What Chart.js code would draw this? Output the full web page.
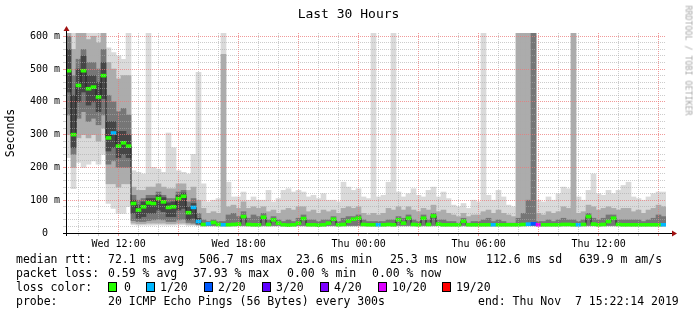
<!DOCTYPE html>
<html><head><meta charset="utf-8">
<script src="https://cdn.jsdelivr.net/npm/chart.js@4.4.0/dist/chart.umd.min.js"></script>
<style>
html,body{margin:0;padding:0;background:#fff;}
#wrap{position:relative;width:697px;height:315px;overflow:hidden;background:#fff;}
#c{position:absolute;left:0;top:0;}
.t{position:absolute;font-family:"DejaVu Sans Mono",monospace;white-space:pre;color:#000;line-height:12px;font-size:11.5px;}
.box{position:absolute;width:7px;height:8px;border:1px solid #000;}
</style></head><body>
<div id="wrap">
<canvas id="c" width="697" height="315"></canvas>
<div class="t" style="left:0;width:697px;text-align:center;top:7px;font-size:13px;line-height:13px;">Last 30 Hours</div>
<div class="t" style="left:-90px;width:200px;text-align:center;top:127px;transform:rotate(-90deg);">Seconds</div>
<div class="t" style="left:628px;width:120px;text-align:center;top:56px;font-size:8.3px;line-height:9px;color:#a8a8a8;transform:rotate(90deg);">RRDTOOL / TOBI OETIKER</div>

<div class="t" style="left:16px;top:253px;">median rtt:</div>
<div class="t" style="left:108px;top:253px;">72.1 ms avg</div>
<div class="t" style="left:199px;top:253px;">506.7 ms max</div>
<div class="t" style="left:296px;top:253px;">23.6 ms min</div>
<div class="t" style="left:390px;top:253px;">25.3 ms now</div>
<div class="t" style="left:486px;top:253px;">112.6 ms sd</div>
<div class="t" style="left:579px;top:253px;">639.9 m am/s</div>

<div class="t" style="left:16px;top:267px;">packet loss:</div>
<div class="t" style="left:108px;top:267px;">0.59 % avg</div>
<div class="t" style="left:193px;top:267px;">37.93 % max</div>
<div class="t" style="left:287px;top:267px;">0.00 % min</div>
<div class="t" style="left:372px;top:267px;">0.00 % now</div>

<div class="t" style="left:16px;top:281px;">loss color:</div>
<div id="lossLegend"></div>

<div class="t" style="left:16px;top:295px;">probe:</div>
<div class="t" style="left:108px;top:295px;">20 ICMP Echo Pings (56 Bytes) every 300s</div>
<div class="t" style="left:478px;top:295px;">end: Thu Nov  7 15:22:14 2019</div>
</div>
<script>
// ---- data: 120 bins of 15 minutes, values in ms ----
const median = [495,300,450,495,440,445,415,480,290,305,265,275,265,90,70,80,92,90,105,95,78,80,105,112,62,78,35,
26,28,32,26,25,25,26,27,50,26,25,25,48,26,40,30,25,24,25,30,44,25,25,24,25,30,42,25,26,36,42,45,26,25,
25,25,25,26,25,40,30,45,26,25,45,26,52,27,25,25,25,25,36,25,25,25,25,25,25,25,25,25,25,25,
26,27,28,25,25,25,25,25,26,26,25,25,26,50,27,25,26,35,45,26,25,25,25,25,25,25,25,25,25];
const lossCount = [0,0,0,0,0,0,0,0,0,1,0,0,0,0,0,0,0,0,0,0,0,0,0,0,0,1,1,
0,1,0,0,1,0,0,0,0,0,0,0,0,0,0,0,0,0,0,0,0,0,0,0,0,0,0,0,0,0,0,0,0,0,
0,1,0,0,0,0,0,0,0,0,0,0,0,0,0,0,0,0,0,0,0,0,0,0,1,0,0,0,0,0,
0,1,2,10,0,0,0,0,0,0,0,1,0,0,0,0,0,0,0,0,0,0,0,0,0,0,0,0,1,0];
const lightLo = [230,135,215,200,210,220,210,240,90,75,60,60,80,25,24,24,24,24,25,24,24,24,25,25,23,23,22,
21,21,21,21,21,21,21,21,21,21,21,21,21,21,21,21,21,21,21,21,21,21,21,21,21,21,21,21,21,21,21,21,21,21,
21,21,21,21,21,21,21,21,21,21,21,21,21,21,21,21,21,21,21,21,21,21,21,21,21,21,21,21,21,21,
21,21,21,21,21,21,21,21,21,21,21,21,21,21,21,21,21,21,21,21,21,21,21,21,21,21,21,21,21,21];
const lightHi = [610,610,610,610,610,610,610,610,565,550,540,530,610,190,185,180,610,200,195,185,305,260,190,185,180,240,490,
150,95,100,105,610,155,110,110,125,100,110,100,100,130,95,105,130,135,125,130,125,110,115,105,120,100,100,95,155,140,130,135,110,105,
610,110,115,155,610,125,110,120,135,115,110,130,140,110,125,105,85,80,90,75,100,95,610,115,100,130,110,85,80,
610,610,610,610,100,95,110,100,120,140,135,610,110,100,130,180,120,115,130,120,130,145,155,110,105,100,110,120,125,125];
const midLo = [300,200,290,300,290,300,280,320,150,150,140,150,150,30,28,28,30,30,30,30,28,28,30,30,27,26,24,
22,22,22,22,22,22,22,22,22,22,22,22,22,22,22,22,22,22,22,22,22,22,22,22,22,22,22,22,22,22,22,22,22,22,
22,22,22,22,22,22,22,22,22,22,22,22,22,22,22,22,22,22,22,22,22,22,22,22,22,22,22,22,22,22,
22,22,22,22,22,22,22,22,22,22,22,22,22,22,22,22,22,22,22,22,22,22,22,22,22,22,22,22,22,22];
const midHi = [610,560,610,610,590,600,580,610,520,500,470,480,480,140,130,130,140,140,150,140,135,135,150,150,130,140,100,
75,60,65,60,545,80,85,75,95,75,80,75,80,65,70,60,70,75,70,80,80,65,70,60,70,65,70,60,75,80,75,80,60,55,
60,55,60,75,70,80,70,80,70,65,75,70,85,65,70,60,55,50,60,50,55,55,65,70,60,70,60,55,50,
610,610,610,610,60,55,65,60,65,80,75,610,60,65,85,80,70,75,80,75,70,75,75,65,70,60,70,75,85,80];
const darkLo = [360,240,350,370,340,350,330,360,210,220,200,200,200,38,35,35,38,40,42,40,35,35,40,42,32,30,26,
23,23,23,23,23,23,23,23,23,23,23,23,23,23,23,23,23,23,23,23,23,23,23,23,23,23,23,23,23,23,23,23,23,23,
23,23,23,23,23,23,23,23,23,23,23,23,23,23,23,23,23,23,23,23,23,23,23,23,23,23,23,23,23,23,
23,23,23,23,23,23,23,23,23,23,23,23,23,23,23,23,23,23,23,23,23,23,23,23,23,23,23,23,23,23];
const darkHi = [600,480,530,560,520,520,500,560,420,400,370,380,360,115,100,105,115,115,125,115,105,105,125,130,95,105,60,
40,35,40,35,35,55,60,50,65,45,55,50,60,40,50,40,35,40,35,45,55,40,40,35,40,40,50,35,45,50,50,55,40,35,
35,35,35,40,40,50,45,55,40,35,55,40,60,40,40,35,35,30,45,30,35,35,40,45,35,40,35,30,30,
45,60,100,610,35,35,40,35,40,45,40,40,35,40,60,45,40,45,55,55,40,40,40,40,40,35,40,45,55,50];
// darkest core of the smoke (only where it is visible, first 27 bins)
const coreLo = [430,260,400,430,390,400,370,410,250,260,230,240,230,60,45,50,60,60,70,65,50,50,70,75,40,45,28];
const coreHi = [560,420,500,540,480,480,460,520,340,340,310,310,300,100,85,95,105,105,115,108,92,95,115,122,80,90,45];
const timeLabels = ['Wed 12:00','Wed 18:00','Thu 00:00','Thu 06:00','Thu 12:00'];
const lossSteps = [0,1,2,3,4,10,19];
const lossNames = ['0','1/20','2/20','3/20','4/20','10/20','19/20'];
const lossColors = ['#26ff00','#00b8ff','#0059ff','#5e00ff','#7e00ff','#dd00ff','#ff0000'];

// ---- loss legend ----
const boxLeft = [108,146,204,262,320,378,442];
const lblLeft = [124,160,218,276,334,392,456];
const lg = document.getElementById('lossLegend');
lossNames.forEach((n,i)=>{
  const b=document.createElement('div'); b.className='box';
  b.style.left=boxLeft[i]+'px'; b.style.top='282px'; b.style.background=lossColors[i]; lg.appendChild(b);
  const t=document.createElement('div'); t.className='t'; t.textContent=n;
  t.style.left=lblLeft[i]+'px'; t.style.top='281px'; lg.appendChild(t);
});

function lossColor(n){ for(let i=0;i<lossSteps.length;i++){ if(n<=lossSteps[i]) return lossColors[i]; } return lossColors[lossColors.length-1]; }

const labels = median.map((_,i)=>i);
const MAJOR='rgba(235,120,120,0.75)', MINOR='rgba(170,170,170,0.6)';
const FONT={family:'"DejaVu Sans Mono"',size:10};
const hourTicks=[]; for(let h=-2;h<=27;h++) hourTicks.push(h);
const yTicks=[]; for(let v=0;v<=600;v+=20) yTicks.push(v);
const T0=-2.6294, T1=27.3706; // hours relative to Wed 12:00

const barBase={type:'bar',grouped:false,barPercentage:1,categoryPercentage:1,borderWidth:0,xAxisID:'x',yAxisID:'y'};
const axisPlugin={id:'rrdAxes',afterDraw(chart){
  const c=chart.ctx,a=chart.chartArea;
  c.save(); c.strokeStyle='#000'; c.lineWidth=1; c.beginPath();
  c.moveTo(a.left-3,a.bottom+0.5); c.lineTo(a.right+6,a.bottom+0.5);
  c.moveTo(a.left+0.5,a.bottom+3); c.lineTo(a.left+0.5,a.top-3);
  c.stroke();
  c.fillStyle='#a01010';
  c.beginPath(); c.moveTo(a.right+6,a.bottom-2.5); c.lineTo(a.right+11,a.bottom+0.5); c.lineTo(a.right+6,a.bottom+3.5); c.closePath(); c.fill();
  c.beginPath(); c.moveTo(a.left-2.5,a.top-2); c.lineTo(a.left+0.5,a.top-7); c.lineTo(a.left+3.5,a.top-2); c.closePath(); c.fill();
  c.restore();
}};

new Chart(document.getElementById('c'),{
  type:'bar',
  data:{labels,datasets:[
    Object.assign({},barBase,{data:lightLo.map((v,i)=>[v,lightHi[i]]),backgroundColor:'rgb(218,218,218)',order:5}),
    Object.assign({},barBase,{data:midLo.map((v,i)=>[v,midHi[i]]),backgroundColor:'rgb(172,172,172)',order:4}),
    Object.assign({},barBase,{data:darkLo.map((v,i)=>[v,darkHi[i]]),backgroundColor:'rgb(118,118,118)',order:3}),
    Object.assign({},barBase,{data:labels.map(i=>i<coreLo.length?[coreLo[i],coreHi[i]]:null),backgroundColor:'rgb(70,70,70)',order:2}),
    {type:'line',data:median,borderColor:'#202020',borderWidth:1,pointRadius:0,stepped:'middle',order:1,xAxisID:'x',yAxisID:'y'},
    Object.assign({},barBase,{data:median.map(m=>[m-4.5,m+4.5]),backgroundColor:lossCount.map(lossColor),order:0})
  ]},
  options:{
    responsive:false,animation:false,devicePixelRatio:1,
    layout:{padding:{left:0,right:31,top:33,bottom:62}},
    plugins:{legend:{display:false},tooltip:{enabled:false},title:{display:false}},
    scales:{
      x:{type:'category',display:false,offset:true},
      xt:{type:'linear',position:'bottom',min:T0,max:T1,offset:false,
        afterBuildTicks:s=>{s.ticks=hourTicks.map(v=>({value:v}));},
        afterFit:s=>{s.height=20;},
        grid:{z:1,offset:false,tickLength:3,color:c=>(c.tick&&c.tick.value%3===0)?MAJOR:MINOR},
        border:{display:false,dash:[1,1]},
        ticks:{autoSkip:false,maxRotation:0,padding:2,font:FONT,color:'#000',
          callback:v=>(v%6===0)?timeLabels[v/6]:''}},
      y:{min:0,max:610,
        afterBuildTicks:s=>{s.ticks=yTicks.map(v=>({value:v}));},
        afterFit:s=>{s.width=66;},
        grid:{z:1,tickLength:3,color:c=>{const v=c.tick?c.tick.value:1; return v===0?'rgba(0,0,0,0)':(v%100===0?MAJOR:MINOR);}},
        border:{display:false,dash:[1,1]},
        ticks:{autoSkip:false,padding:3,font:FONT,color:'#000',callback:v=>(v%100===0)?(v===0?'0  ':v+' m'):''}}
    }
  },
  plugins:[axisPlugin]
});
</script>
</body></html>
